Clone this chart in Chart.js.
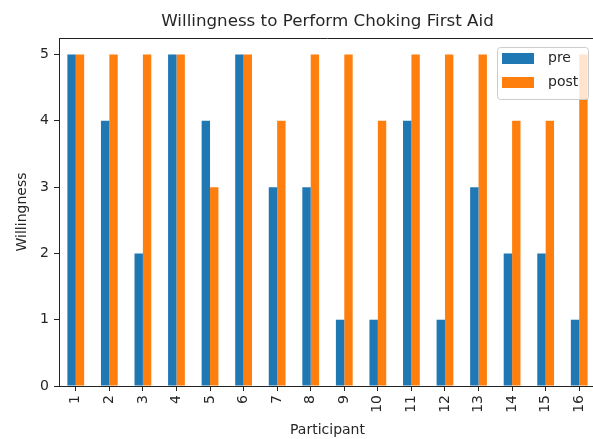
<!DOCTYPE html>
<html>
<head>
<meta charset="utf-8">
<script src="https://cdn.jsdelivr.net/npm/chart.js@4.4.1/dist/chart.umd.min.js"></script>
<style>
    html, body { margin: 0; padding: 0; background: #fff; overflow: hidden; }
    #wrap { width: 593px; height: 439px; overflow: hidden; }
</style>
</head>
<body>
<div id="wrap"><canvas id="chart" width="620" height="439"></canvas></div>
<script>
const participants = ["1", "2", "3", "4", "5", "6", "7", "8", "9", "10", "11", "12", "13", "14", "15", "16"];
const preScores = [5, 4, 2, 5, 4, 5, 3, 3, 1, 1, 4, 1, 3, 2, 2, 1];
const postScores = [5, 5, 5, 5, 3, 5, 4, 5, 5, 4, 5, 5, 5, 4, 4, 5];
const yTicks = [0, 1, 2, 3, 4, 5];

const textColor = "#262626";
const lineColor = "#222";

Chart.defaults.font.family = "'DejaVu Sans', sans-serif";
Chart.defaults.color = textColor;

// title, top spine and legend box drawn inside the axes like matplotlib
const extras = {
    id: "extras",
    afterDraw(chart) {
        const { ctx, chartArea } = chart;
        ctx.save();

        ctx.strokeStyle = lineColor;
        ctx.lineWidth = 1;
        ctx.beginPath();
        ctx.moveTo(chartArea.left, chartArea.top + 0.5);
        ctx.lineTo(chartArea.right, chartArea.top + 0.5);
        ctx.stroke();

        ctx.fillStyle = textColor;
        ctx.font = "16.7px 'DejaVu Sans'";
        ctx.textAlign = "center";
        ctx.textBaseline = "alphabetic";
        ctx.fillText("Willingness to Perform Choking First Aid", (chartArea.left + chartArea.right) / 2, 26);

        const w = 91, h = 52;
        const x = chartArea.right - 8 - w, y = chartArea.top + 9;
        ctx.beginPath();
        ctx.roundRect(x + 0.5, y + 0.5, w, h, 3);
        ctx.fillStyle = "rgba(255,255,255,0.8)";
        ctx.fill();
        ctx.strokeStyle = "#cccccc";
        ctx.stroke();

        ctx.font = "14px 'DejaVu Sans'";
        ctx.textAlign = "left";
        ctx.textBaseline = "middle";
        chart.data.datasets.forEach((ds, i) => {
            const cy = y + 11.5 + i * 24;
            ctx.fillStyle = ds.backgroundColor;
            ctx.fillRect(x + 5, cy - 5.5, 32, 11);
            ctx.fillStyle = textColor;
            ctx.fillText(ds.label, x + 51, cy);
        });
        ctx.restore();
    }
};

const chart = new Chart(document.getElementById("chart").getContext("2d"), {
    type: "bar",
    data: {
        labels: participants,
        datasets: [
            { label: "pre", data: preScores, backgroundColor: "#1f77b4" },
            { label: "post", data: postScores, backgroundColor: "#ff7f0e" }
        ]
    },
    options: {
        responsive: false,
        animation: false,
        // right edge of the axes falls just outside the visible 593px, as in the original
        layout: { padding: { top: 38, right: 24, left: 0, bottom: 0 } },
        datasets: { bar: { categoryPercentage: 0.5, barPercentage: 1.0, borderWidth: 0 } },
        plugins: {
            legend: { display: false },
            title: { display: false },
            tooltip: { enabled: false }
        },
        scales: {
            x: {
                grid: { offset: false, drawOnChartArea: false, tickLength: 5, color: lineColor, tickColor: lineColor },
                border: { color: lineColor, width: 1 },
                ticks: { minRotation: 90, maxRotation: 90, padding: 4, font: { size: 14 }, color: textColor },
                title: { display: true, text: "Participant", font: { size: 14 }, padding: { top: 0, bottom: 0 }, color: textColor },
                afterFit: s => { s.height = 53; }
            },
            y: {
                min: 0,
                max: 5.25,
                grid: { drawOnChartArea: false, tickLength: 5, color: lineColor, tickColor: lineColor },
                border: { color: lineColor, width: 1 },
                ticks: { padding: 5, font: { size: 14 }, color: textColor },
                afterBuildTicks: s => { s.ticks = yTicks.map(v => ({ value: v })); },
                title: { display: true, text: "Willingness", font: { size: 14 }, padding: { top: 14, bottom: 0 }, color: textColor },
                afterFit: s => { s.width = 59; }
            }
        }
    },
    plugins: [extras]
});
</script>
</body>
</html>
